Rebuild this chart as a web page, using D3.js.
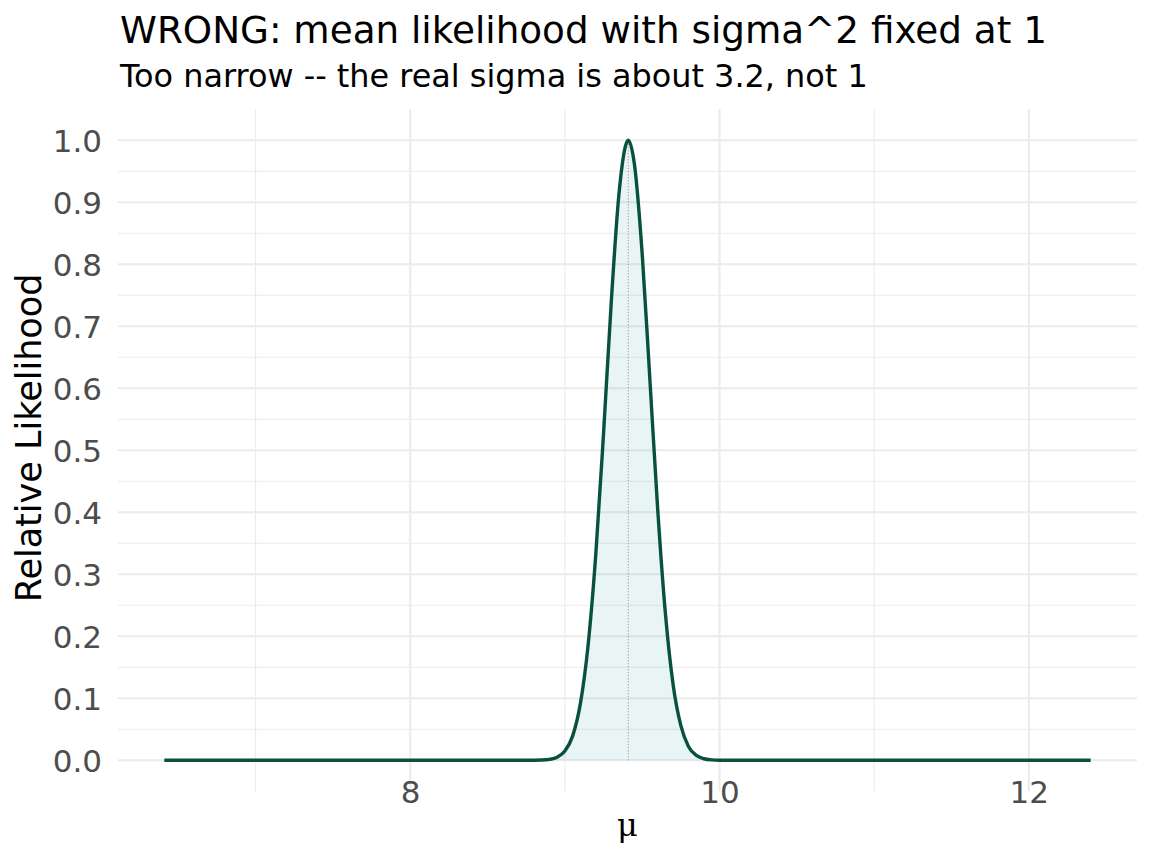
<!DOCTYPE html>
<html>
<head>
<meta charset="utf-8">
<script src="https://cdn.jsdelivr.net/npm/d3@7"></script>
<style>
  body { margin: 0; background: #fff; }
  text { font-family: "DejaVu Sans", sans-serif; }
</style>
</head>
<body>
<script>
const width = 1152;
const height = 864;

// values
const muValues = [6.41, 8.5, 8.7, 8.8, 8.85, 8.9, 8.95, 9.0, 9.05, 9.1, 9.15, 9.2, 9.25, 9.3, 9.35,
  9.41, 9.45, 9.5, 9.55, 9.6, 9.65, 9.7, 9.75, 9.8, 9.85, 9.9, 9.95, 10.0, 10.1, 10.3, 12.40];
const likValues = [0, 0, 0, 0.0001, 0.0004, 0.0015, 0.005, 0.015, 0.039, 0.091, 0.185, 0.332, 0.527, 0.739, 0.914,
  1.0, 0.961, 0.817, 0.613, 0.406, 0.237, 0.122, 0.056, 0.022, 0.0079, 0.0025, 0.0007, 0.0002, 0, 0, 0];
const muHat = 9.41;

const xMajor = [8, 10, 12];
const xMinor = [7, 9, 11];
const yMajor = [0, 0.1, 0.2, 0.3, 0.4, 0.5, 0.6, 0.7, 0.8, 0.9, 1.0];
const yMinor = [0.05, 0.15, 0.25, 0.35, 0.45, 0.55, 0.65, 0.75, 0.85, 0.95];

const titleText = "WRONG: mean likelihood with sigma^2 fixed at 1";
const subtitleText = "Too narrow -- the real sigma is about 3.2, not 1";

const panel = { left: 118, right: 1137, top: 109.3, bottom: 791.3 };

let svg = d3.select("body").append("svg")
    .attr("width", width)
    .attr("height", height);

let data = muValues.map((m, i) => ({ mu: m, lik: likValues[i] }));

// ggplot-style 5% expansion
let xExt = d3.extent(muValues);
let xPad = (xExt[1] - xExt[0]) * 0.05;
let xScale = d3.scaleLinear()
    .domain([xExt[0] - xPad, xExt[1] + xPad])
    .range([panel.left, panel.right]);

let yScale = d3.scaleLinear()
    .domain([-0.05, 1.05])
    .range([panel.bottom, panel.top]);

// grid
let grid = svg.append("g");
grid.selectAll("line.ymin").data(yMinor).enter().append("line")
    .attr("x1", panel.left).attr("x2", panel.right)
    .attr("y1", d => yScale(d)).attr("y2", d => yScale(d))
    .attr("stroke", "#ebebeb").attr("stroke-width", 1.1);
grid.selectAll("line.xmin").data(xMinor).enter().append("line")
    .attr("y1", panel.top).attr("y2", panel.bottom)
    .attr("x1", d => xScale(d)).attr("x2", d => xScale(d))
    .attr("stroke", "#ebebeb").attr("stroke-width", 1.1);
grid.selectAll("line.ymaj").data(yMajor).enter().append("line")
    .attr("x1", panel.left).attr("x2", panel.right)
    .attr("y1", d => yScale(d)).attr("y2", d => yScale(d))
    .attr("stroke", "#ebebeb").attr("stroke-width", 2.1);
grid.selectAll("line.xmaj").data(xMajor).enter().append("line")
    .attr("y1", panel.top).attr("y2", panel.bottom)
    .attr("x1", d => xScale(d)).attr("x2", d => xScale(d))
    .attr("stroke", "#ebebeb").attr("stroke-width", 2.1);

// area + curve
let area = d3.area()
    .x(d => xScale(d.mu))
    .y0(yScale(0))
    .y1(d => yScale(d.lik))
    .curve(d3.curveMonotoneX);

let line = d3.line()
    .x(d => xScale(d.mu))
    .y(d => yScale(d.lik))
    .curve(d3.curveMonotoneX);

svg.append("path")
    .datum(data)
    .attr("d", area)
    .attr("fill", "#2a9d8f")
    .attr("fill-opacity", 0.1);

svg.append("line")
    .attr("x1", xScale(muHat)).attr("x2", xScale(muHat))
    .attr("y1", yScale(0)).attr("y2", yScale(1))
    .attr("stroke", "#8a5a5a")
    .attr("stroke-opacity", 0.7)
    .attr("stroke-width", 0.9)
    .attr("stroke-dasharray", "1.2,1.8");

svg.append("path")
    .datum(data)
    .attr("d", line)
    .attr("fill", "none")
    .attr("stroke", "#08513f")
    .attr("stroke-width", 3.4);

// axes (no lines, just labels)
let xAxis = svg.append("g")
    .attr("transform", `translate(0,${panel.bottom})`)
    .call(d3.axisBottom(xScale).tickValues(xMajor).tickSize(0).tickPadding(0).tickFormat(d3.format("d")));
xAxis.select(".domain").remove();
xAxis.selectAll("text")
    .attr("y", 803 - panel.bottom)
    .attr("dy", 0)
    .style("font-size", "31px")
    .style("font-family", "DejaVu Sans")
    .attr("fill", "#4d4d4d");

let yAxis = svg.append("g")
    .attr("transform", `translate(102,0)`)
    .call(d3.axisLeft(yScale).tickValues(yMajor).tickSize(0).tickPadding(0).tickFormat(d3.format(".1f")));
yAxis.select(".domain").remove();
yAxis.selectAll("text")
    .attr("x", 0)
    .attr("dy", "0.365em")
    .style("font-size", "31px")
    .style("font-family", "DejaVu Sans")
    .attr("fill", "#4d4d4d");

// titles
svg.append("text")
    .attr("x", 120).attr("y", 43)
    .style("font-size", "37.3px")
    .attr("fill", "#000")
    .text(titleText);

svg.append("text")
    .attr("x", 120).attr("y", 87)
    .style("font-size", "31.9px")
    .attr("fill", "#000")
    .text(subtitleText);

svg.append("text")
    .attr("text-anchor", "middle")
    .attr("transform", `translate(41,438) rotate(-90)`)
    .style("font-size", "35px")
    .attr("fill", "#000")
    .text("Relative Likelihood");

svg.append("text")
    .attr("text-anchor", "middle")
    .attr("x", (panel.left + panel.right) / 2)
    .attr("y", 836)
    .style("font-size", "32px")
    .style("font-family", "DejaVu Serif")
    .attr("fill", "#000")
    .text("μ");
</script>
</body>
</html>
